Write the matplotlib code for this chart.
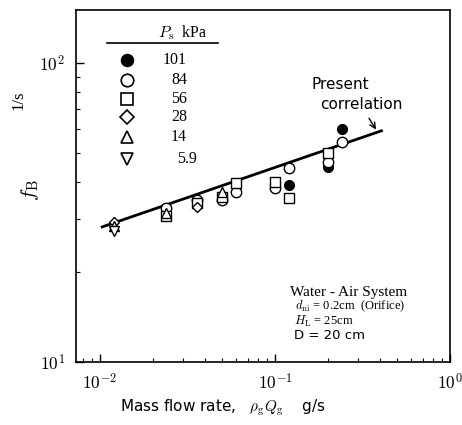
import matplotlib
matplotlib.use('Agg')
import matplotlib.pyplot as plt
from matplotlib.ticker import FixedLocator, FixedFormatter, LogLocator, NullFormatter

plt.rcParams['mathtext.fontset'] = 'cm'
plt.rcParams['font.family'] = 'DejaVu Sans'

# data (mass flow rate g/s, bubble frequency 1/s)
p101_x = [0.12, 0.2, 0.24]
p101_y = [39.0, 45.0, 60.0]
p84_x = [0.024, 0.036, 0.05, 0.06, 0.1, 0.12, 0.2, 0.24]
p84_y = [32.7, 34.8, 34.8, 37.0, 38.1, 44.6, 46.7, 54.4]
p56_x = [0.024, 0.036, 0.05, 0.06, 0.1, 0.12, 0.2]
p56_y = [30.8, 34.0, 35.6, 39.7, 40.0, 35.3, 50.0]
p28_x = [0.012, 0.036]
p28_y = [29.4, 33.0]
p14_x = [0.012, 0.024, 0.05]
p14_y = [28.5, 31.5, 37.1]
p5_9_x = [0.012]
p5_9_y = [27.4]

# present correlation line end points
corr_x = [0.0103, 0.406]
corr_y = [28.3, 59.3]

legend_labels = ['101', '84', '56', '28', '14', '5.9']
legend_markers = ['o', 'o', 's', 'D', '^', 'v']
legend_faces = ['black', 'white', 'white', 'white', 'white', 'white']

fig = plt.figure(figsize=(4.62, 4.25), dpi=100)
ax = fig.add_axes([0.1645, 0.148, 0.8095, 0.828])

ax.plot(corr_x, corr_y, color='black', lw=2)

series = [(p101_x, p101_y), (p84_x, p84_y), (p56_x, p56_y),
          (p28_x, p28_y), (p14_x, p14_y), (p5_9_x, p5_9_y)]
sizes = [7, 7.5, 6.5, 5.5, 7, 7]
for (xs, ys), m, fc, ms in zip(series, legend_markers, legend_faces, sizes):
    ax.plot(xs, ys, linestyle='none', marker=m, ms=ms, mfc=fc, mec='black', mew=1.0, zorder=3)

ax.set_xscale('log')
ax.set_yscale('log')
ax.set_xlim(0.0073, 1.0)
ax.set_ylim(10, 150)

ax.xaxis.set_major_locator(FixedLocator([0.01, 0.1, 1.0]))
ax.xaxis.set_major_formatter(FixedFormatter([r'$10^{-2}$', r'$10^{-1}$', r'$10^{0}$']))
ax.yaxis.set_major_locator(FixedLocator([10, 100]))
ax.yaxis.set_major_formatter(FixedFormatter([r'$10^{1}$', r'$10^{2}$']))
ax.xaxis.set_minor_locator(LogLocator(base=10, subs=range(2, 10)))
ax.yaxis.set_minor_locator(LogLocator(base=10, subs=range(2, 10)))
ax.xaxis.set_minor_formatter(NullFormatter())
ax.yaxis.set_minor_formatter(NullFormatter())
ax.tick_params(which='both', direction='in', top=False, right=False, labelsize=12.5)
ax.tick_params(which='major', length=6, width=1)
ax.tick_params(which='minor', length=3, width=0.8)
ax.tick_params(axis='x', pad=8)
ax.tick_params(axis='y', pad=8)
for s in ax.spines.values():
    s.set_linewidth(1.2)

# legend drawn by hand
ax.text(0.286, 0.935, r'$P_{\rm s}$  kPa', transform=ax.transAxes, ha='center', va='center',
        fontsize=11.5, family='Liberation Serif')
ax.plot([0.083, 0.380], [0.906, 0.906], color='black', lw=1.2, transform=ax.transAxes)
rows = [0.858, 0.801, 0.747, 0.696, 0.639, 0.577]
for lab, m, fc, ms, ry in zip(legend_labels, legend_markers, legend_faces, sizes, rows):
    ax.plot([0.136], [ry], marker=m, ms=ms + 1.5, mfc=fc, mec='black', mew=1.2,
            linestyle='none', transform=ax.transAxes, clip_on=False)
    ax.text(0.324 if lab == '5.9' else 0.297, ry, lab, transform=ax.transAxes,
            ha='right', va='center', fontsize=11.5, family='Liberation Serif')

ax.text(0.706, 0.790, 'Present', transform=ax.transAxes, ha='center', va='center', fontsize=11)
ax.text(0.762, 0.733, 'correlation', transform=ax.transAxes, ha='center', va='center', fontsize=11)
ax.annotate('', xy=(0.385, 58.8), xytext=(0.338, 66.5),
            arrowprops=dict(arrowstyle='->', color='black', lw=1))

ax.text(0.572, 0.199, 'Water - Air System', transform=ax.transAxes, ha='left', va='center',
        fontsize=11, family='Liberation Serif')
ax.text(0.586, 0.158, r'$d_{\rm ni}$ = 0.2cm  (Orifice)', transform=ax.transAxes, ha='left',
        va='center', fontsize=9, family='Liberation Serif')
ax.text(0.583, 0.116, r'$H_{\rm L}$ = 25cm', transform=ax.transAxes, ha='left',
        va='center', fontsize=9, family='Liberation Serif')
ax.text(0.583, 0.075, 'D = 20 cm', transform=ax.transAxes, ha='left',
        va='center', fontsize=9.5)

fig.text(0.483, 0.040, r'Mass flow rate,   $\rho_{\rm g}Q_{\rm g}$    g/s', ha='center', va='center',
         fontsize=11)
fig.text(0.065, 0.553, r'$f_{\rm B}$', rotation=90, ha='center', va='center', fontsize=15)
fig.text(0.039, 0.765, '1/s', rotation=90, ha='center', va='center', fontsize=12,
         family='Liberation Serif')

fig.savefig('out.png', dpi=100)
